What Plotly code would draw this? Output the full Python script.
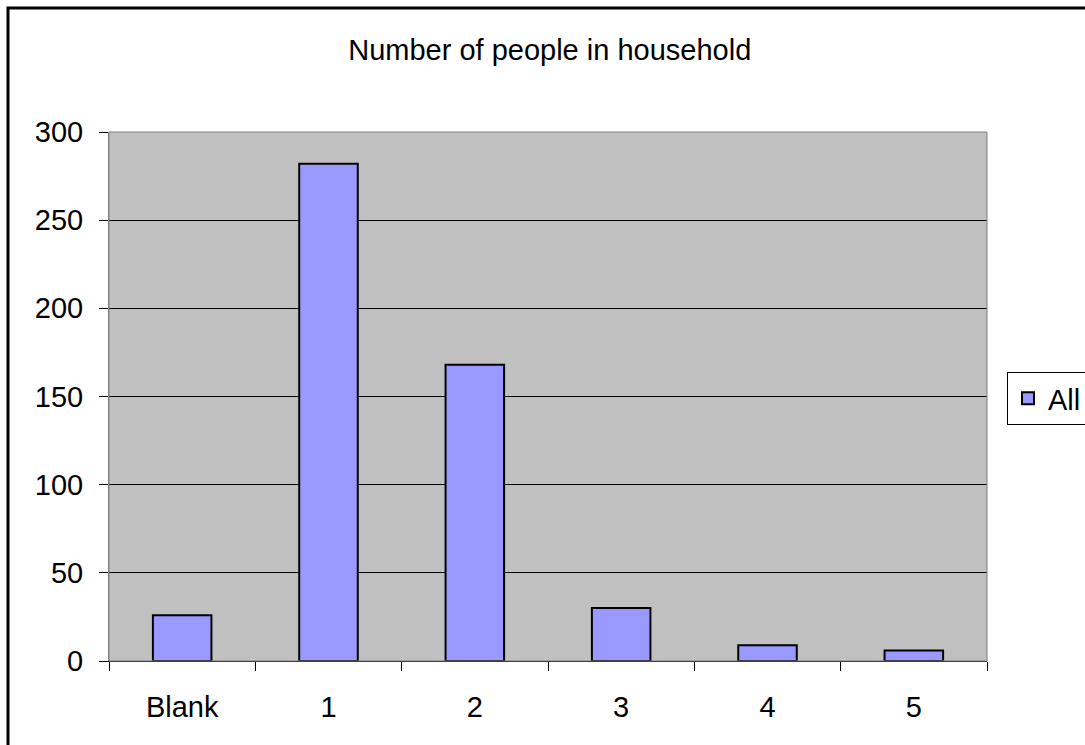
import plotly.graph_objects as go

# Household size counts
categories = ["Blank", "1", "2", "3", "4", "5"]
counts = [26, 282, 168, 30, 9, 6]
y_ticks = [0, 50, 100, 150, 200, 250, 300]

FONT = "Liberation Sans, Arial, sans-serif"
FS = 29

fig = go.Figure(
    go.Bar(
        x=categories,
        y=counts,
        name="All",
        marker=dict(color="#9999FF", line=dict(color="black", width=2)),
    )
)

fig.update_layout(
    width=1085,
    height=745,
    margin=dict(l=109, r=98, t=132, b=84, autoexpand=False),
    paper_bgcolor="white",
    plot_bgcolor="#C0C0C0",
    bargap=0.6,
    font=dict(family=FONT, size=FS, color="black"),
    title=dict(
        text="Number of people in household",
        x=0.502,
        xref="paper",
        xanchor="center",
        y=1 - 50 / 745,
        yref="container",
        yanchor="middle",
        font=dict(family=FONT, size=FS, color="black"),
    ),
    showlegend=True,
    legend=dict(
        xref="container",
        yref="container",
        x=1007 / 1085,
        y=1 - 372 / 745,
        xanchor="left",
        yanchor="top",
        bgcolor="white",
        bordercolor="black",
        borderwidth=1,
        font=dict(family=FONT, size=FS, color="black"),
    ),
    xaxis=dict(
        type="category",
        showgrid=False,
        showline=True,
        linecolor="black",
        linewidth=1,
        ticks="outside",
        tickson="boundaries",
        ticklen=9,
        tickcolor="black",
        tickfont=dict(family=FONT, size=FS),
        ticklabelstandoff=20,
    ),
    yaxis=dict(
        range=[0, 300],
        tickvals=y_ticks,
        showgrid=True,
        gridcolor="black",
        gridwidth=1,
        zeroline=False,
        showline=True,
        linecolor="#808080",
        linewidth=1,
        ticks="outside",
        ticklen=9,
        tickcolor="black",
        tickfont=dict(family=FONT, size=FS),
        ticklabelstandoff=10,
    ),
    shapes=[
        # gray border around the plot area
        dict(type="rect", xref="paper", yref="paper", x0=0, y0=0, x1=1, y1=1,
             line=dict(color="#808080", width=1), layer="above"),
        # outer chart frame
        dict(type="rect", xref="paper", yref="paper",
             x0=(8 - 109) / 878, y0=-0.3, x1=1.3, y1=(661 - 8) / 529,
             line=dict(color="black", width=3), layer="above"),
    ],
)

fig.write_html("out.html")
